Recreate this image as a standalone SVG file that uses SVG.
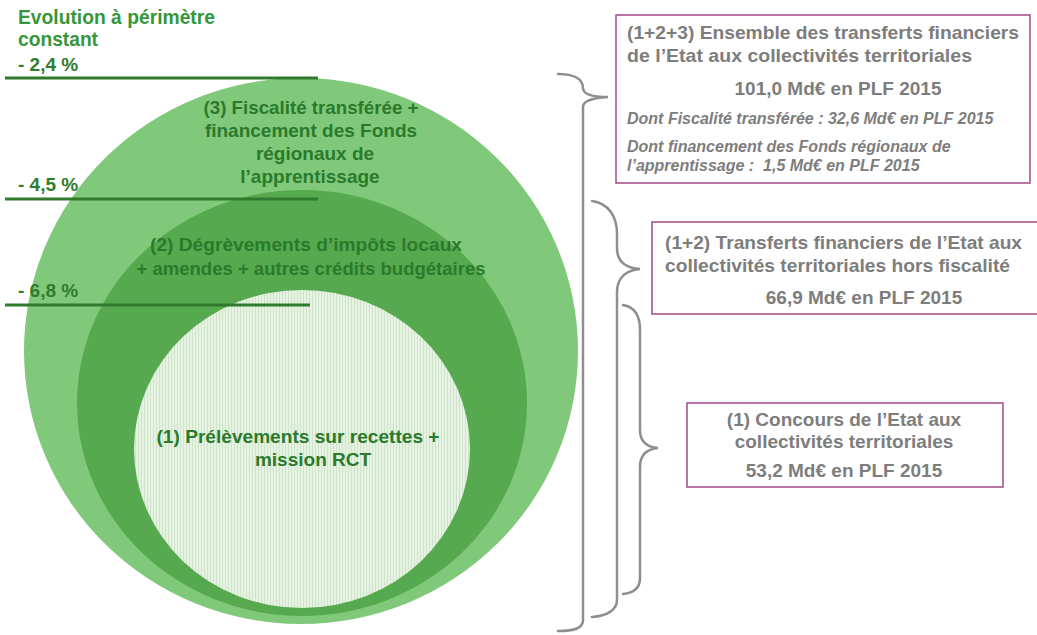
<svg xmlns="http://www.w3.org/2000/svg" width="1037" height="635" viewBox="0 0 1037 635">
<style>
  text { font-family: "Liberation Sans", Arial, sans-serif; font-weight: bold; }
  .hdr { fill: #35973a; font-size: 20px; }
  .pct { fill: #2e7d2e; font-size: 19px; }
  .lvl { stroke: #2f7a2c; stroke-width: 3; }
  .lbl { fill: #2b7a2b; font-size: 19px; text-anchor: middle; }
  .box { fill: #ffffff; stroke: #a24a86; stroke-width: 1.5; }
  .bt { fill: #7d7d7d; font-size: 19px; }
  .bc { text-anchor: middle; }
  .bi { fill: #7d7d7d; font-size: 16px; font-style: italic; }
  .brace { fill: none; stroke: #8e8e8e; stroke-width: 2.5; stroke-linecap: round; }
</style>
<defs>
  <pattern id="dots" width="3" height="3" patternUnits="userSpaceOnUse">
    <rect width="3" height="3" fill="#e6f3e2"/>
    <rect width="1" height="3" fill="#cfe5ca"/>
  </pattern>
</defs>
<rect width="1037" height="635" fill="#ffffff"/>

<g id="outer">
  <ellipse cx="301" cy="351" rx="277" ry="273" fill="#80c97b"/>
</g>
<g id="middle">
  <ellipse cx="302" cy="403" rx="225" ry="213" fill="#56a94f"/>
</g>
<g id="inner">
  <ellipse cx="302" cy="449" rx="168" ry="159" fill="url(#dots)"/>
</g>

<g id="header">
  <text class="hdr" x="18" y="24" textLength="197" lengthAdjust="spacingAndGlyphs">Evolution à périmètre</text>
  <text class="hdr" x="18" y="46" textLength="80" lengthAdjust="spacingAndGlyphs">constant</text>
</g>
<g id="levels">
  <text class="pct" x="18" y="71">- 2,4 %</text>
  <line class="lvl" x1="5" y1="78" x2="318" y2="78"/>
  <text class="pct" x="18" y="191">- 4,5 %</text>
  <line class="lvl" x1="5" y1="199" x2="318" y2="199"/>
  <text class="pct" x="18" y="297">- 6,8 %</text>
  <line class="lvl" x1="5" y1="305" x2="310" y2="305"/>
</g>

<g id="label3">
  <text class="lbl" x="311" y="114" textLength="215" lengthAdjust="spacingAndGlyphs">(3) Fiscalité transférée +</text>
  <text class="lbl" x="311" y="137">financement des Fonds</text>
  <text class="lbl" x="315" y="160">régionaux de</text>
  <text class="lbl" x="310" y="183">l’apprentissage</text>
</g>
<g id="label2">
  <text class="lbl" x="306" y="251" textLength="312" lengthAdjust="spacingAndGlyphs">(2) Dégrèvements d’impôts locaux</text>
  <text class="lbl" x="311" y="275" textLength="349" lengthAdjust="spacingAndGlyphs">+ amendes + autres crédits budgétaires</text>
</g>
<g id="label1">
  <text class="lbl" x="298" y="443" textLength="283" lengthAdjust="spacingAndGlyphs">(1) Prélèvements sur recettes +</text>
  <text class="lbl" x="313" y="466">mission RCT</text>
</g>

<g id="connectors">
  <path class="brace" d="M558,74 C574,74 583,79 583,88 C583,94 591,97 608,97 C591,98 583,101 583,107 L583,620 C583,628 575,631 558,631"/>
  <path class="brace" d="M592,201 C608,203 617,216 617,234 L617,248 C617,262 626,268 640,269 C626,270 617,278 617,292 L617,600 C617,610 607,616 592,617"/>
  <path class="brace" d="M623,305 C635,307 640,316 640,330 L640,430 C640,442 647,447 658,448 C647,449 640,455 640,467 L640,578 C640,588 633,593 623,594"/>
</g>

<g id="box123">
  <rect class="box" x="616" y="15" width="414" height="168"/>
  <text class="bt" x="627" y="39" textLength="392" lengthAdjust="spacingAndGlyphs">(1+2+3) Ensemble des transferts financiers</text>
  <text class="bt" x="627" y="62" textLength="345" lengthAdjust="spacingAndGlyphs">de l’Etat aux collectivités territoriales</text>
  <text class="bt bc" x="838" y="95">101,0 Md€ en PLF 2015</text>
  <text class="bi" x="627" y="124">Dont Fiscalité transférée : 32,6 Md€ en PLF 2015</text>
  <text class="bi" x="627" y="152">Dont financement des Fonds régionaux de</text>
  <text class="bi" x="627" y="171" xml:space="preserve">l’apprentissage :  1,5 Md€ en PLF 2015</text>
</g>
<g id="box12">
  <rect class="box" x="652" y="222" width="395" height="92"/>
  <text class="bt" x="665" y="249" textLength="357" lengthAdjust="spacingAndGlyphs">(1+2) Transferts financiers de l’Etat aux</text>
  <text class="bt" x="665" y="272" textLength="345" lengthAdjust="spacingAndGlyphs">collectivités territoriales hors fiscalité</text>
  <text class="bt bc" x="864" y="304">66,9 Md€ en PLF 2015</text>
</g>
<g id="box1">
  <rect class="box" x="687" y="403" width="316" height="84"/>
  <text class="bt bc" x="844" y="426">(1) Concours de l’Etat aux</text>
  <text class="bt bc" x="844" y="448">collectivités territoriales</text>
  <text class="bt bc" x="844" y="477">53,2 Md€ en PLF 2015</text>
</g>
</svg>
